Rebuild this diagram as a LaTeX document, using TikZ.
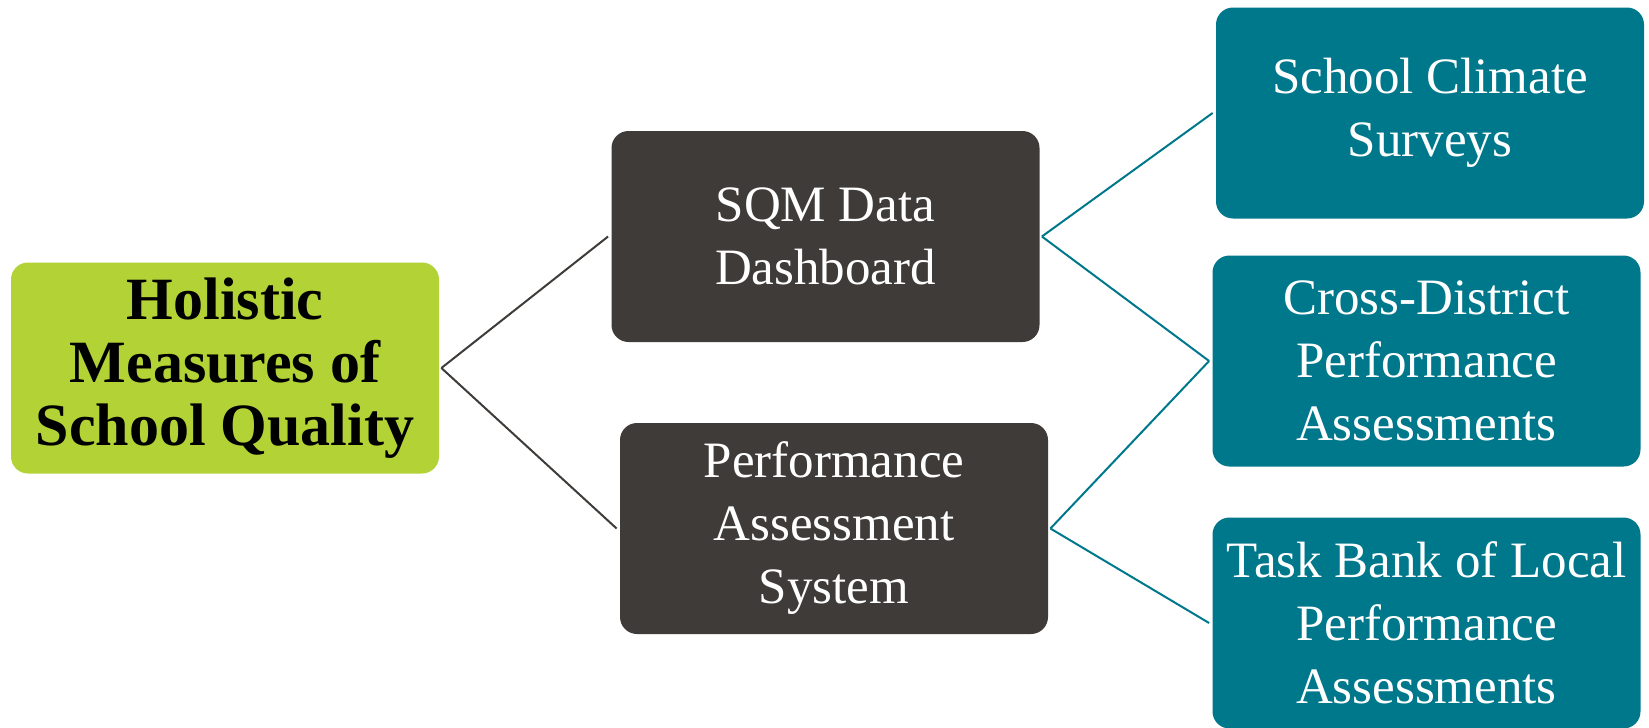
\documentclass[tikz,border=0pt]{standalone}
\usepackage{fontspec}
\setmainfont{Liberation Serif}
\definecolor{lime}{HTML}{B2D235}
\definecolor{darkbox}{HTML}{3F3B38}
\definecolor{tealbox}{HTML}{00788C}
\tikzset{
  box/.style={rectangle, rounded corners=8.5pt, inner sep=0pt, align=center,
    minimum width=214pt, minimum height=105.5pt},
  rootbox/.style={box, fill=lime, text=black, font=\fontsize{30}{31.5}\selectfont\bfseries},
  midbox/.style={box, fill=darkbox, text=white, font=\fontsize{25.5}{31.5}\selectfont},
  leafbox/.style={box, fill=tealbox, text=white, font=\fontsize{25.5}{31.5}\selectfont},
  darkline/.style={draw=darkbox, line width=1pt},
  tealline/.style={draw=tealbox, line width=1pt}
}
\begin{document}
\begin{tikzpicture}[x=0.5pt, y=-0.5pt]
\useasboundingbox (0,0) rectangle (1649,728);
\node[rootbox] (root) at (225,368) {Holistic\\Measures of\\School Quality};
\node[midbox] (sqm) at (825.5,236.5) {SQM Data\\Dashboard};
\node[midbox] (pas) at (834,528.5) {Performance\\Assessment\\System};
\node[leafbox] (scs) at (1430,113) {School Climate\\Surveys};
\node[leafbox] (cdpa) at (1426.5,361) {Cross-District\\Performance\\Assessments};
\node[leafbox] (tbl) at (1426.5,623) {Task Bank of Local\\Performance\\Assessments};
\draw[darkline] ([xshift=1pt]root.east) -- ([xshift=-1.5pt]sqm.west);
\draw[darkline] ([xshift=1pt]root.east) -- ([xshift=-1.5pt]pas.west);
\draw[tealline] ([xshift=1pt]sqm.east) -- ([xshift=-1.5pt]scs.west);
\draw[tealline] ([xshift=1pt]sqm.east) -- ([xshift=-1.5pt]cdpa.west);
\draw[tealline] ([xshift=1pt]pas.east) -- ([xshift=-1.5pt]cdpa.west);
\draw[tealline] ([xshift=1pt]pas.east) -- ([xshift=-1.5pt]tbl.west);
\end{tikzpicture}
\end{document}
